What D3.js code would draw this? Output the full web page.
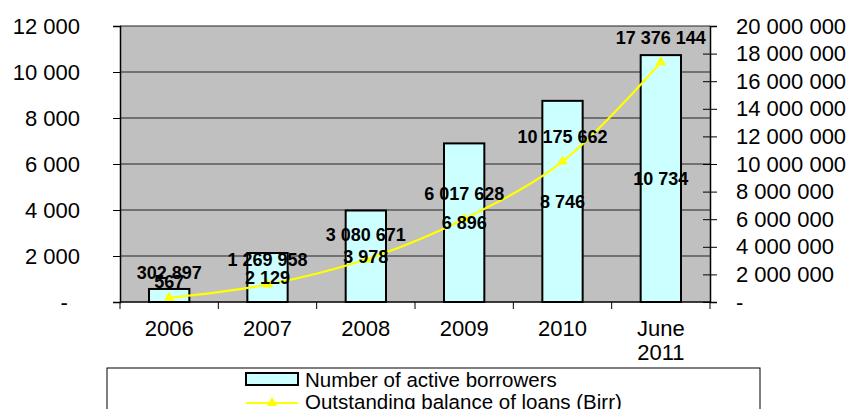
<!DOCTYPE html>
<html>
<head>
<meta charset="utf-8">
<script src="https://cdn.jsdelivr.net/npm/d3@7"></script>
<style>
  body { margin: 0; background: #fff; }
  svg { display: block; font-family: "Liberation Sans", Arial, sans-serif; }
</style>
</head>
<body>
<script>
var categories = ["2006", "2007", "2008", "2009", "2010", "June 2011"]
var borrowers = [567, 2129, 3978, 6896, 8746, 10734]
var loans = [302897, 1269958, 3080671, 6017628, 10175662, 17376144]
var leftTicks = [0, 2000, 4000, 6000, 8000, 10000, 12000]
var rightTicks = [0, 2000000, 4000000, 6000000, 8000000, 10000000, 12000000, 14000000, 16000000, 18000000, 20000000]
var seriesNames = ["Number of active borrowers", "Outstanding balance of loans (Birr)"]

var W = 852, H = 409
var margin = {top: 26, right: 142, bottom: 107, left: 120},
  width = W - margin.left - margin.right,
  height = H - margin.top - margin.bottom;

var loc = d3.formatLocale({decimal: ".", thousands: " ", grouping: [3], currency: ["", ""]})
var fmt = loc.format(",")

var svg = d3.select("body").append("svg")
    .attr("width", W)
    .attr("height", H)

var g = svg.append("g")
    .attr("transform", "translate(" + margin.left + "," + margin.top + ")")

var x = d3.scaleBand().domain(categories).range([0, width]).padding(0)
var y = d3.scaleLinear().domain([0, 12000]).range([height, 0])
var y2 = d3.scaleLinear().domain([0, 20000000]).range([height, 0])

// plot background
g.append("rect")
    .attr("width", width)
    .attr("height", height)
    .attr("fill", "#c0c0c0")

// gridlines
g.selectAll(".grid")
  .data(leftTicks.filter(function(d) { return d > 0 }))
  .enter().append("line")
    .attr("x1", 0).attr("x2", width)
    .attr("y1", function(d) { return y(d) })
    .attr("y2", function(d) { return y(d) })
    .attr("stroke", "#222")
    .attr("stroke-width", 1)

// bars
var bw = x.step() * 0.41
g.selectAll(".bar")
  .data(borrowers)
  .enter().append("rect")
    .attr("x", function(d, i) { return x(categories[i]) + (x.step() - bw) / 2 })
    .attr("y", function(d) { return y(d) })
    .attr("width", bw)
    .attr("height", function(d) { return height - y(d) })
    .attr("fill", "#ccffff")
    .attr("stroke", "#000")
    .attr("stroke-width", 2)

// left axis
var yAxis = d3.axisLeft(y).tickValues(leftTicks).tickSize(7).tickPadding(33)
    .tickFormat(function(d) { return d === 0 ? "-\u2007" : fmt(d) })
var ga = g.append("g").call(yAxis)
ga.select(".domain").attr("stroke", "#000").attr("stroke-width", 1.5)

// right axis
var y2Axis = d3.axisRight(y2).tickValues(rightTicks).tickSize(7).tickPadding(19)
    .tickFormat(function(d) { return d === 0 ? "-" : fmt(d) })
var gb = g.append("g").attr("transform", "translate(" + width + ",0)").call(y2Axis)
gb.select(".domain").attr("stroke", "#000").attr("stroke-width", 1.5)
gb.selectAll(".tick line").attr("x1", -7)
gb.selectAll(".tick").filter(function(d) { return d === 20000000 }).select("line").attr("x1", 0)

// bottom axis
var gx = g.append("g").attr("transform", "translate(0," + height + ")")
gx.append("line").attr("x1", 0).attr("x2", width).attr("stroke", "#000").attr("stroke-width", 1.5)
var bounds = categories.map(function(c) { return x(c) }).concat([width])
gx.selectAll(".tk").data(bounds).enter().append("line")
    .attr("x1", function(d) { return d }).attr("x2", function(d) { return d })
    .attr("y1", 0).attr("y2", 7)
    .attr("stroke", "#000")
gx.selectAll(".lbl").data(categories).enter().append("text")
    .attr("x", function(d) { return x(d) + x.step() / 2 })
    .attr("text-anchor", "middle")
    .attr("font-size", 22)
    .attr("fill", "#000")
    .each(function(d) {
      var parts = d.split(" ")
      var t = d3.select(this)
      parts.forEach(function(p, i) {
        t.append("tspan").attr("x", x(d) + x.step() / 2).attr("y", 34 + i * 24).text(p)
      })
    })

svg.selectAll(".tick text").attr("font-size", 22).attr("fill", "#000")
    .attr("font-family", "Liberation Sans, Arial, sans-serif")

// loans line
var line = d3.line()
    .x(function(d, i) { return x(categories[i]) + x.step() / 2 })
    .y(function(d) { return y2(d) })
    .curve(d3.curveCatmullRom.alpha(0.5))

g.append("path")
    .datum(loans)
    .attr("d", line)
    .attr("fill", "none")
    .attr("stroke", "#ffff00")
    .attr("stroke-width", 2.2)

var tri = d3.symbol().type(d3.symbolTriangle).size(48)
g.selectAll(".mk")
  .data(loans)
  .enter().append("path")
    .attr("d", tri)
    .attr("transform", function(d, i) {
      return "translate(" + (x(categories[i]) + x.step() / 2) + "," + y2(d) + ")"
    })
    .attr("fill", "#ffff00")

// borrower labels (centred in bar)
g.selectAll(".bl")
  .data(borrowers)
  .enter().append("text")
    .attr("x", function(d, i) { return x(categories[i]) + x.step() / 2 })
    .attr("y", function(d) { return Math.min((y(d) + height) / 2, y(0) - 20) })
    .attr("dy", "0.35em")
    .attr("text-anchor", "middle")
    .attr("font-size", 18)
    .attr("font-weight", "bold")
    .text(function(d) { return fmt(d) })

// loan labels (above point)
g.selectAll(".ll")
  .data(loans)
  .enter().append("text")
    .attr("x", function(d, i) { return x(categories[i]) + x.step() / 2 })
    .attr("y", function(d) { return y2(d) - 25 })
    .attr("dy", "0.35em")
    .attr("text-anchor", "middle")
    .attr("font-size", 18)
    .attr("font-weight", "bold")
    .text(function(d) { return fmt(d) })

// legend
var lg = svg.append("g").attr("transform", "translate(107,368)")
lg.append("rect")
    .attr("width", 653).attr("height", 60)
    .attr("fill", "#fff").attr("stroke", "#000").attr("stroke-width", 1)
lg.append("rect")
    .attr("x", 139).attr("y", 5).attr("width", 52).attr("height", 12)
    .attr("fill", "#ccffff").attr("stroke", "#000").attr("stroke-width", 2)
lg.append("line")
    .attr("x1", 139).attr("x2", 191).attr("y1", 35).attr("y2", 35)
    .attr("stroke", "#ffff00").attr("stroke-width", 2)
lg.append("path").attr("d", tri).attr("transform", "translate(165,35)").attr("fill", "#ffff00")
lg.selectAll(".lt").data(seriesNames).enter().append("text")
    .attr("x", 198)
    .attr("y", function(d, i) { return 19 + i * 21.5 })
    .attr("font-size", 20.5)
    .text(function(d) { return d })
</script>
</body>
</html>
